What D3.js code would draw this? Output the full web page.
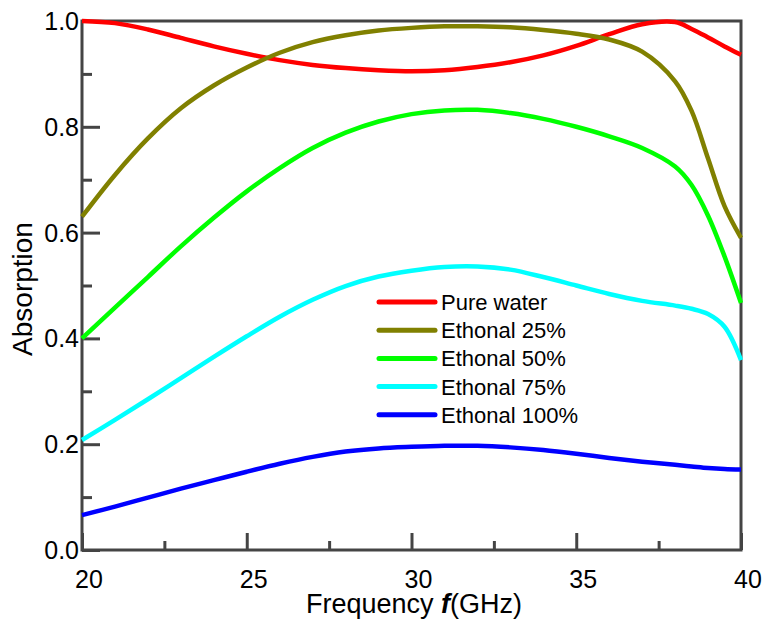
<!DOCTYPE html>
<html>
<head>
<meta charset="utf-8">
<script src="https://cdn.jsdelivr.net/npm/d3@7"></script>
<style>
  body { margin: 0; background: #fff; }
  svg { display: block; font-family: "Liberation Sans", Arial, sans-serif; }
</style>
</head>
<body>
<svg id="chart" width="767" height="631"></svg>
<script>
// frequency points (GHz)
const freq = [20, 21, 22, 23, 24, 25, 26, 27, 28, 29, 30, 31, 32, 33, 34, 35, 36, 37, 38, 38.5, 39, 39.5, 40];

const pureWater = [1.0, 0.996, 0.984, 0.968, 0.952, 0.938, 0.926, 0.917, 0.911, 0.907, 0.905, 0.907, 0.913, 0.922, 0.935, 0.953, 0.975, 0.994, 0.998, 0.985, 0.969, 0.952, 0.936];
const ethonal25 = [0.630, 0.709, 0.778, 0.835, 0.878, 0.912, 0.940, 0.960, 0.973, 0.982, 0.987, 0.990, 0.990, 0.988, 0.983, 0.976, 0.965, 0.942, 0.886, 0.830, 0.740, 0.650, 0.590];
const ethonal50 = [0.400, 0.458, 0.516, 0.574, 0.628, 0.678, 0.722, 0.760, 0.789, 0.810, 0.824, 0.831, 0.832, 0.826, 0.815, 0.800, 0.782, 0.760, 0.725, 0.690, 0.632, 0.555, 0.467];
const ethonal75 = [0.208, 0.246, 0.285, 0.325, 0.365, 0.404, 0.441, 0.473, 0.499, 0.517, 0.528, 0.535, 0.536, 0.530, 0.516, 0.500, 0.484, 0.471, 0.462, 0.456, 0.446, 0.422, 0.359];
const ethonal100 = [0.066, 0.082, 0.099, 0.116, 0.132, 0.148, 0.163, 0.176, 0.186, 0.192, 0.195, 0.197, 0.197, 0.194, 0.189, 0.182, 0.174, 0.167, 0.161, 0.158, 0.155, 0.153, 0.152];

const seriesNames = ["Pure water", "Ethonal 25%", "Ethonal 50%", "Ethonal 75%", "Ethonal 100%"];
const seriesColors = ["#ff0000", "#808000", "#00ff00", "#00ffff", "#0000ff"];
const seriesValues = [pureWater, ethonal25, ethonal50, ethonal75, ethonal100];

const xTicks = [20, 25, 30, 35, 40];
const xMinor = [22.5, 27.5, 32.5, 37.5];
const yTicks = [0, 0.2, 0.4, 0.6, 0.8, 1.0];
const yMinor = [0.1, 0.3, 0.5, 0.7, 0.9];

const plot = { left: 82, right: 741, top: 21, bottom: 550 };
const axisColor = "#444";

const svg = d3.select("#chart");

const x = d3.scaleLinear().domain([20, 40]).range([plot.left, plot.right]);
const y = d3.scaleLinear().domain([0, 1]).range([plot.bottom, plot.top]);

// frame
svg.append("rect")
    .attr("x", plot.left).attr("y", plot.top)
    .attr("width", plot.right - plot.left).attr("height", plot.bottom - plot.top)
    .attr("fill", "none")
    .attr("stroke", axisColor)
    .attr("stroke-width", 3);

// bottom axis (ticks inside)
svg.append("g").attr("transform", `translate(0,${plot.bottom})`)
    .call(d3.axisBottom(x).tickValues(xTicks).tickSize(-17).tickFormat(""))
    .call(g => g.select(".domain").remove())
    .call(g => g.selectAll("line").attr("stroke", axisColor).attr("stroke-width", 3));
svg.append("g").attr("transform", `translate(0,${plot.bottom})`)
    .call(d3.axisBottom(x).tickValues(xMinor).tickSize(-9).tickFormat(""))
    .call(g => g.select(".domain").remove())
    .call(g => g.selectAll("line").attr("stroke", axisColor).attr("stroke-width", 3));

svg.append("g").selectAll("text")
    .data(xTicks)
    .enter()
    .append("text")
    .attr("x", d => x(d) + 7)
    .attr("y", 588)
    .attr("text-anchor", "middle")
    .style("font-size", "25px")
    .text(d => d);

// left axis (ticks inside)
svg.append("g").attr("transform", `translate(${plot.left},0)`)
    .call(d3.axisLeft(y).tickValues(yTicks).tickSize(-18).tickFormat(""))
    .call(g => g.select(".domain").remove())
    .call(g => g.selectAll("line").attr("stroke", axisColor).attr("stroke-width", 3));
svg.append("g").attr("transform", `translate(${plot.left},0)`)
    .call(d3.axisLeft(y).tickValues(yMinor).tickSize(-10).tickFormat(""))
    .call(g => g.select(".domain").remove())
    .call(g => g.selectAll("line").attr("stroke", axisColor).attr("stroke-width", 3));

svg.append("g").selectAll("text")
    .data(yTicks)
    .enter()
    .append("text")
    .attr("x", 79)
    .attr("y", d => y(d))
    .attr("dy", "0.36em")
    .attr("text-anchor", "end")
    .style("font-size", "25px")
    .text(d => d.toFixed(1));

// axis titles
svg.append("text")
    .attr("transform", "translate(32,289) rotate(-90)")
    .attr("text-anchor", "middle")
    .style("font-size", "28px")
    .text("Absorption");

const xt = svg.append("text")
    .attr("x", 414)
    .attr("y", 613)
    .attr("text-anchor", "middle")
    .style("font-size", "27px");
xt.append("tspan").text("Frequency ");
xt.append("tspan").style("font-style", "italic").style("font-weight", "bold").text("f");
xt.append("tspan").text("(GHz)");

// curves
const line = d3.line()
    .x((d, i) => x(freq[i]))
    .y(d => y(d))
    .curve(d3.curveCatmullRom.alpha(0.5));

svg.append("g")
    .selectAll("path")
    .data(seriesValues)
    .enter()
    .append("path")
    .attr("d", d => line(d))
    .attr("fill", "none")
    .attr("stroke", (d, i) => seriesColors[i])
    .attr("stroke-width", 4.5);

// legend
const legend = svg.append("g").attr("transform", "translate(379,302)");
const rows = legend.selectAll("g")
    .data(seriesNames)
    .enter()
    .append("g")
    .attr("transform", (d, i) => `translate(0,${i * 28.2})`);
rows.append("line")
    .attr("x1", 0).attr("x2", 56)
    .attr("stroke", (d, i) => seriesColors[i])
    .attr("stroke-width", 5)
    .attr("stroke-linecap", "round");
rows.append("text")
    .attr("x", 62)
    .attr("dy", "0.36em")
    .style("font-size", "22px")
    .text(d => d);
</script>
</body>
</html>
